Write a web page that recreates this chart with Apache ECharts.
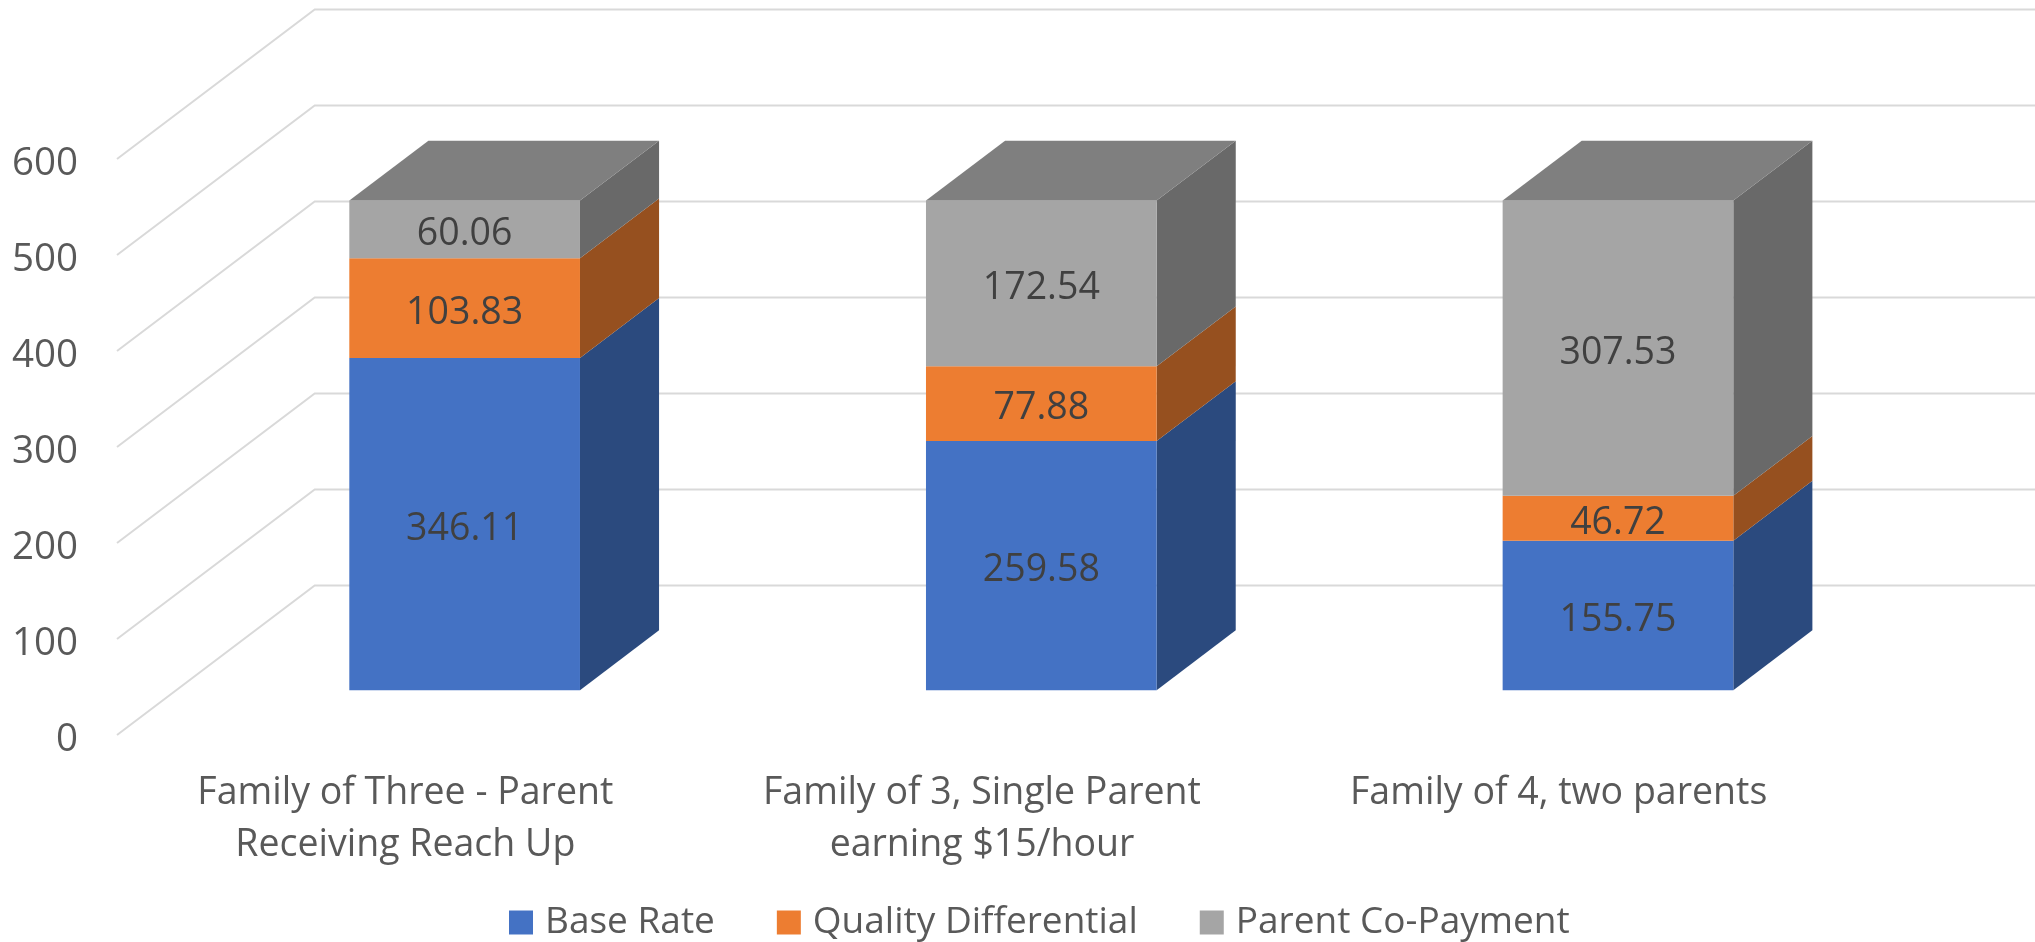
<!DOCTYPE html>
<html>
<head>
<meta charset="utf-8">
<style>
	html, body { margin: 0; padding: 0; background: #fff; overflow: hidden; }
	#chart { width: 2035px; height: 942px; }
</style>
<script src="https://cdn.jsdelivr.net/npm/echarts@6/dist/echarts.min.js"></script>
</head>
<body>
<div id="chart"></div>
<script>
var categories = ['Family of Three - Parent\nReceiving Reach Up', 'Family of 3, Single Parent\nearning $15/hour', 'Family of 4, two parents'];
var baseRate = [346.11, 259.58, 155.75];
var qualityDifferential = [103.83, 77.88, 46.72];
var parentCoPayment = [60.06, 172.54, 307.53];
var yTicks = [0, 100, 200, 300, 400, 500, 600];

// the floor goes back by this many pixels, the bars sit from 30% to 70% of it
var DEPTH_X = 197.7, DEPTH_Y = -149.5;
var BAR_FRONT = 0.3, BAR_BACK = 0.7, BAR_WIDTH = 0.4;
var FONT = '"Open Sans"';
var FONT_SIZE = 37.5;

var gridLines = function (params, api){
	var p = api.coord([0, api.value(0)]);
	var x0 = params.coordSys.x;
	var x1 = x0 + params.coordSys.width;
	return {
		type: 'polyline',
		silent: true,
		shape: {points: [[x0, p[1]], [x0 + DEPTH_X, p[1] + DEPTH_Y], [x1 + DEPTH_X, p[1] + DEPTH_Y]]},
		style: {stroke: '#D9D9D9', lineWidth: 2, fill: null}
	};
};

var barItem = function (front, side, top){
	return function (params, api){
		var low = api.coord([api.value(0), api.value(1)]);
		var high = api.coord([api.value(0), api.value(1) + api.value(2)]);
		var w = api.size([1, 0])[0] * BAR_WIDTH;
		var fx = DEPTH_X * BAR_FRONT, fy = DEPTH_Y * BAR_FRONT;
		var dx = DEPTH_X * (BAR_BACK - BAR_FRONT), dy = DEPTH_Y * (BAR_BACK - BAR_FRONT);
		var l = low[0] + fx - w / 2, r = low[0] + fx + w / 2;
		var yb = low[1] + fy, yt = high[1] + fy;
		var children = [
			{type: 'polygon', shape: {points: [[r, yb], [r + dx, yb + dy], [r + dx, yt + dy], [r, yt]]}, style: {fill: side}},
			{type: 'rect', shape: {x: l, y: yt, width: w, height: yb - yt}, style: {fill: front}},
			{type: 'text', x: (l + r) / 2, y: (yb + yt) / 2 + 5, style: {
				text: api.value(2).toFixed(2),
				fill: '#404040',
				fontSize: FONT_SIZE,
				fontFamily: FONT,
				align: 'center',
				verticalAlign: 'middle'
			}}
		];
		if (top) {
			children.push({type: 'polygon', shape: {points: [[l, yt], [l + dx, yt + dy], [r + dx, yt + dy], [r, yt]]}, style: {fill: top}});
		}
		return {type: 'group', children: children};
	};
};

var seriesData = function (values, below){
	var resultData = [];
	for (var i = 0; i < values.length; i++) {
		var base = 0;
		for (var j = 0; j < below.length; j++) {
			base += below[j][i];
		}
		resultData.push([i, base, values[i]]);
	}
	return resultData;
};

var chart = echarts.init(document.getElementById('chart'));
chart.setOption({
	animation: false,
	backgroundColor: '#fff',
	grid: {left: 117, top: 159, width: 1730, height: 576},
	legend: {
		left: 504,
		top: 899,
		itemWidth: 24,
		itemHeight: 24,
		itemGap: 62,
		icon: 'rect',
		textStyle: {color: '#595959', fontSize: 37, fontFamily: FONT, padding: [0, 0, 0, 7]},
		data: ['Base Rate', 'Quality Differential', 'Parent Co-Payment']
	},
	xAxis: {
		type: 'category',
		data: categories,
		axisLine: {show: false},
		axisTick: {show: false},
		axisLabel: {color: '#595959', fontSize: FONT_SIZE, fontFamily: FONT, lineHeight: 52, margin: 32, interval: 0}
	},
	yAxis: {
		type: 'value',
		min: 0,
		max: 600,
		interval: 100,
		axisLine: {show: false},
		axisTick: {show: false},
		splitLine: {show: false},
		axisLabel: {
			margin: 39,
			formatter: '{tick|{value}}',
			rich: {
				tick: {color: '#595959', fontSize: 38.5, fontFamily: FONT, padding: [10, 0, 0, 0]}
			}
		}
	},
	series: [
		{
			type: 'custom',
			name: 'gridlines',
			renderItem: gridLines,
			encode: {y: 0},
			z: 1,
			silent: true,
			data: yTicks.map(function (v){ return [v]; })
		},
		{
			type: 'custom',
			name: 'Base Rate',
			itemStyle: {color: '#4472C4'},
			renderItem: barItem('#4472C4', '#2B4A7E'),
			encode: {x: 0, y: [1, 2]},
			z: 2,
			data: seriesData(baseRate, [])
		},
		{
			type: 'custom',
			name: 'Quality Differential',
			itemStyle: {color: '#ED7D31'},
			renderItem: barItem('#ED7D31', '#96501F'),
			encode: {x: 0, y: [1, 2]},
			z: 3,
			data: seriesData(qualityDifferential, [baseRate])
		},
		{
			type: 'custom',
			name: 'Parent Co-Payment',
			itemStyle: {color: '#A5A5A5'},
			renderItem: barItem('#A5A5A5', '#696969', '#7F7F7F'),
			encode: {x: 0, y: [1, 2]},
			z: 4,
			data: seriesData(parentCoPayment, [baseRate, qualityDifferential])
		}
	]
});
</script>
</body>
</html>
